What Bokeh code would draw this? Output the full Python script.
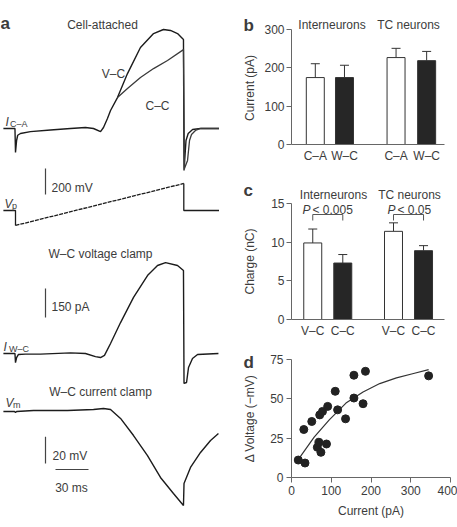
import math
from bokeh.plotting import figure
from bokeh.layouts import row, column
from bokeh.models import Range1d, Label, FixedTicker, Whisker, TeeHead, ColumnDataSource
from bokeh.embed import file_html
from bokeh.resources import INLINE

FONT = "Liberation Sans"
TXT = "#3c3c3c"
INK = "#1c1c1c"
AX = "#666666"

# ---------------- Panel a: traces (time in ms from ramp onset) ----------------
ica_vc_t = [-11, -0.5, 0, 1, 2, 4.5, 13.6, 31.8, 50, 63.6, 70.9, 77.3, 80, 83.6, 86.4, 92.7,
            101.8, 113.6, 125.5, 134.5, 140.9, 147.3, 152.7, 153.2, 155, 157, 161, 168, 185]
ica_vc = [0, 0, -124, -62, -35, -26, -16, -8, 0, 5, 0, -16, 5, 52, 93, 160,
          284, 419, 491, 512, 507, 491, 460, -217, -62, -26, -5, 0, 0]
ica_cc_t = [92.7, 101.8, 113.6, 125.5, 138.2, 152.7, 153.6, 156.4, 158.2, 160, 163.6, 168.2, 185]
ica_cc = [160, 207, 264, 310, 352, 408, -207, -165, -62, -31, -10, 0, 0]

vp_t = [-11, 0, 0, 153, 153, 185]
vp_mv = [0, 0, -115, 208, 0, 0]

iwc_t = [-11, -0.5, 0, 1, 2.7, 9, 22.7, 50, 63.6, 72.7, 77.3, 80.9, 86.4, 95.5, 107.3, 120,
         129.1, 136.4, 147.3, 152.7, 153.2, 155.5, 157.3, 160.9, 165.5, 184.5]
iwc = [0, 0, -47, -21, -5, -3, -3, 3, 0, -16, -21, -10, 52, 160, 290, 403,
       455, 470, 455, 429, -155, -150, -72, -26, -5, 0]

vm_t = [-11, -0.9, 0, 1, 16.4, 47.3, 70.9, 80, 86.4, 95.5, 107.3, 120, 131.8, 143.6, 152.7,
        153.2, 159.1, 168.2, 177.3, 184.5]
vm = [0, 0, -0.7, 0, 0.7, 0.7, 1.5, 2.2, 1.5, -5.2, -18, -33, -49.4, -61.4, -70.4,
      -53.9, -41.9, -30.7, -21.7, -16.5]

SCALE_VP = 200   # mV
SCALE_I = 150    # pA
SCALE_VM = 20    # mV
SCALE_T = 30     # ms

# ---------------- Panel b ----------------
b_groups = ["Interneurons", "TC neurons"]
b_labels = ["C\u2013A", "W\u2013C", "C\u2013A", "W\u2013C"]
b_mean = [174, 174, 226, 218]
b_sem = [36, 32, 24, 24]
b_ticks = [0, 100, 200, 300]

# ---------------- Panel c ----------------
c_labels = ["V\u2013C", "C\u2013C", "V\u2013C", "C\u2013C"]
c_mean = [9.9, 7.3, 11.4, 8.9]
c_sem = [1.8, 1.1, 1.1, 0.65]
c_pvals = ["< 0.005", "< 0.05"]
c_ticks = [0, 5, 10, 15]

# ---------------- Panel d ----------------
d_current = [17, 34, 31, 51, 65, 69, 74, 71, 78, 88, 91, 110, 116, 136, 157, 157, 180, 186, 345]
d_voltage = [11.1, 9.2, 30.5, 35.6, 19.2, 22.4, 16, 39.8, 42, 21.3, 45.2, 54.8, 43, 37.3, 65,
             50.5, 46.9, 67.5, 64.6]
fit_current = [20, 57, 95, 137, 180, 222, 264, 307, 345]
fit_voltage = [12.5, 25.6, 36.6, 47.3, 54.3, 59.7, 63.3, 66.1, 68.6]
d_xticks = [0, 100, 200, 300, 400]
d_yticks = [0, 25, 50, 75]

Y_LABELS = ["Current (pA)", "Charge (nC)", "\u0394 Voltage (\u2212mV)"]
X_LABEL_D = "Current (pA)"
BAR_FILL = ["white", "#262626", "white", "#262626"]

# =============================== Panel a ===============================
H = 527
WA = 230
PX_PER_MS = 1.1
T0_PX = 15


def ms(xpx):
    return (xpx - T0_PX) / PX_PER_MS


def trace_range(zero_px, per_px):
    return Range1d(start=-(H - zero_px) * per_px, end=zero_px * per_px)


ZERO = {"ica": 128, "vp": 210, "iwc": 353, "vm": 411}
PER = {"ica": 150 / 29, "vp": 200 / 26, "iwc": 150 / 29, "vm": 20 / 26.7}


def bare_fig(w, h, xr, yr):
    p = figure(width=w, height=h, x_range=xr, y_range=yr, x_axis_type=None, y_axis_type=None,
               title=None, tools="", toolbar_location=None, output_backend="svg",
               min_border_left=0, min_border_right=0, min_border_top=0, min_border_bottom=0)
    p.outline_line_color = None
    p.grid.visible = False
    return p


fa = bare_fig(WA, H, Range1d(ms(0), ms(WA)), Range1d(H, 0))
fa.extra_y_ranges = {k: trace_range(ZERO[k], PER[k]) for k in ZERO}

fa.line(ica_vc_t, ica_vc, y_range_name="ica", line_color=INK, line_width=1.4)
fa.line(ica_cc_t, ica_cc, y_range_name="ica", line_color="#3a3a3a", line_width=1.3)
fa.line(vp_t[0:3], vp_mv[0:3], y_range_name="vp", line_color=INK, line_width=1.3)
fa.line(vp_t[2:4], vp_mv[2:4], y_range_name="vp", line_color=INK, line_width=1.3, line_dash="4 1")
fa.line(vp_t[3:6], vp_mv[3:6], y_range_name="vp", line_color=INK, line_width=1.3)
fa.line(iwc_t, iwc, y_range_name="iwc", line_color=INK, line_width=1.4)
fa.line(vm_t, vm, y_range_name="vm", line_color=INK, line_width=1.4)


def vbar_scale(name, x_px, bottom_px, length):
    y0 = (ZERO[name] - bottom_px) * PER[name]
    fa.line([ms(x_px), ms(x_px)], [y0, y0 + length], y_range_name=name,
            line_color="#444444", line_width=1.2)


vbar_scale("vp", 45, 194, SCALE_VP)
vbar_scale("iwc", 45, 317, SCALE_I)
vbar_scale("vm", 45, 463, SCALE_VM)
ty = (ZERO["vm"] - 469) * PER["vm"]
fa.line([ms(55), ms(55) + SCALE_T], [ty, ty], y_range_name="vm", line_color="#444444", line_width=1.2)


def mk_label(p, text, x, y, align="left", size="12px", style="normal", baseline="alphabetic", angle=0.0):
    p.add_layout(Label(x=x, y=y, text=text, text_align=align, text_baseline=baseline,
                       text_font=FONT, text_font_size=size, text_font_style=style,
                       text_color=TXT, angle=angle))


def lab_a(text, x, y, **kw):
    mk_label(fa, text, ms(x), y, **kw)


lab_a("a", 0, 23, size="17px", style="bold")
lab_a("Cell-attached", 102, 24, align="center")
lab_a("V\u2013C", 113, 73, align="center")
lab_a("C\u2013C", 157, 105, align="center")
lab_a("I", 5, 121, style="italic")
lab_a("C\u2013A", 9.5, 123, size="9px")
lab_a("200 mV", 51, 187)
lab_a("V", 4, 203, style="italic")
lab_a("p", 11.5, 205, size="9px")
lab_a("W\u2013C voltage clamp", 100, 253, align="center")
lab_a("150 pA", 51, 306)
lab_a("I", 3, 346, style="italic")
lab_a("W\u2013C", 8.5, 348, size="9px")
lab_a("W\u2013C current clamp", 100, 391, align="center")
lab_a("V", 5, 402, style="italic")
lab_a("m", 12.5, 404, size="9px")
lab_a("20 mV", 52, 455)
lab_a("30 ms", 71, 487, align="center")

# =============================== Text column (panel letters, y-axis titles) ===============================
XT0, XT1 = 230, 258
ft = bare_fig(XT1 - XT0, H, Range1d(XT0, XT1), Range1d(H, 0))
mk_label(ft, "b", 243, 25, size="17px", style="bold")
mk_label(ft, "c", 243, 190, size="17px", style="bold")
mk_label(ft, "d", 243, 362, size="17px", style="bold")
for txt, yc in zip(Y_LABELS, [87.5, 261, 418]):
    mk_label(ft, txt, 249.5, yc, align="center", baseline="middle", angle=math.pi / 2)

# =============================== Right panels ===============================
WR = 457 - XT1
FRAME_L = 291          # page x of the y axes
FRAME_R = 450          # page x where the right frames end
BORDER_L = FRAME_L - XT1
BORDER_R = 457 - FRAME_R
FRAME_W = FRAME_R - FRAME_L
BAR_UNITS = 5.4        # data width of the drawn bar-chart x axis
BAR_AXIS_PX = 153      # its length in pixels
XR = (0, BAR_UNITS * FRAME_W / BAR_AXIS_PX)


def style_axes(p):
    for ax in (p.xaxis[0], p.yaxis[0]):
        ax.axis_line_color = AX
        ax.major_tick_line_color = AX
        ax.minor_tick_line_color = None
        ax.major_tick_in = 0
        ax.major_tick_out = 5
        ax.major_label_text_font = FONT
        ax.major_label_text_font_size = "12px"
        ax.major_label_text_color = TXT
        ax.axis_label_text_font = FONT
        ax.axis_label_text_font_size = "12px"
        ax.axis_label_text_font_style = "normal"
        ax.axis_label_text_color = TXT
    p.grid.visible = False
    p.outline_line_color = None


def bar_panel(height, frame_top_px, bottom_b, ytop, yticks, pos, labels, mean, sem):
    frame_h = height - bottom_b
    y_end = ytop * frame_h / (frame_h - frame_top_px)
    p = figure(width=WR, height=height, x_range=Range1d(*XR), y_range=Range1d(0, y_end),
               title=None, tools="", toolbar_location=None, output_backend="svg",
               min_border_left=BORDER_L, min_border_right=BORDER_R, min_border_top=0,
               min_border_bottom=bottom_b)
    style_axes(p)
    p.yaxis.ticker = FixedTicker(ticks=yticks)
    p.yaxis.bounds = (0, ytop)
    p.yaxis.major_label_standoff = 2
    p.xaxis.ticker = FixedTicker(ticks=pos)
    p.xaxis.bounds = (0, BAR_UNITS)
    p.xaxis.major_label_overrides = {x: l for x, l in zip(pos, labels)}
    p.xaxis.major_tick_out = 0
    p.xaxis.major_label_standoff = 4
    src = ColumnDataSource(dict(x=pos, top=mean, up=[m + s for m, s in zip(mean, sem)], fill=BAR_FILL))
    p.add_layout(Whisker(base="x", lower="top", upper="up", source=src, dimension="height",
                         line_color="#333333", line_width=1,
                         upper_head=TeeHead(size=9, line_color="#333333", line_width=1),
                         lower_head=None))
    p.vbar(x="x", top="top", bottom=0, width=0.635, source=src, fill_color="fill",
           line_color="#333333", line_width=1)
    return p


def bx(px):
    return (px - FRAME_L) / BAR_AXIS_PX * BAR_UNITS


# ---- b ---- (page y 0..165; frame top at page 0, 300 at page 29, 0 at page 146)
b_pos = [0.84, 1.87, 3.69, 4.77]
fb = bar_panel(165, 29, 19, 300, b_ticks, b_pos, b_labels, b_mean, b_sem)


def by(py):
    return 300 - (py - 29) / 117 * 300


mk_label(fb, b_groups[0], bx(331.5), by(25), align="center")
mk_label(fb, b_groups[1], bx(408), by(25), align="center")

# ---- c ---- (page y 165..343; 15 at page 203, 0 at page 319)
c_pos = [0.75, 1.81, 3.6, 4.66]
fc = bar_panel(178, 203 - 165, 24, 15, c_ticks, c_pos, c_labels, c_mean, c_sem)


def cy(py):
    return 15 - (py - 203) / 116 * 15


mk_label(fc, b_groups[0], bx(333), cy(194), align="center")
mk_label(fc, b_groups[1], bx(409), cy(194), align="center")
for g in range(2):
    x0, x1 = c_pos[2 * g], c_pos[2 * g + 1]
    fc.line([x0, x0, x1, x1], [cy(220), cy(214), cy(214), cy(220)], line_color="#555555", line_width=1)
mk_label(fc, "P", bx(302), cy(209), style="italic")
mk_label(fc, c_pvals[0], bx(312), cy(209))
mk_label(fc, "P", bx(387), cy(209), style="italic")
mk_label(fc, c_pvals[1], bx(397), cy(209))

# ---- d ---- (page y 343..527)
fd = figure(width=WR, height=184, x_range=Range1d(0, 400), y_range=Range1d(0, 75),
            title=None, tools="", toolbar_location=None, output_backend="svg",
            min_border_left=BORDER_L, min_border_right=BORDER_R, min_border_top=16,
            min_border_bottom=50)
style_axes(fd)
fd.xaxis.ticker = FixedTicker(ticks=d_xticks)
fd.yaxis.ticker = FixedTicker(ticks=d_yticks)
fd.xaxis.major_label_standoff = 3
fd.yaxis.major_label_standoff = 3
fd.xaxis.axis_label = X_LABEL_D
fd.xaxis.axis_label_standoff = 6
fd.line(fit_current, fit_voltage, line_color="#333333", line_width=1.2)
fd.scatter(d_current, d_voltage, size=8, fill_color="#222222", line_color="#222222")

layout = row(fa, ft, column(fb, fc, fd))
open("out.html", "w").write(file_html(layout, INLINE))
